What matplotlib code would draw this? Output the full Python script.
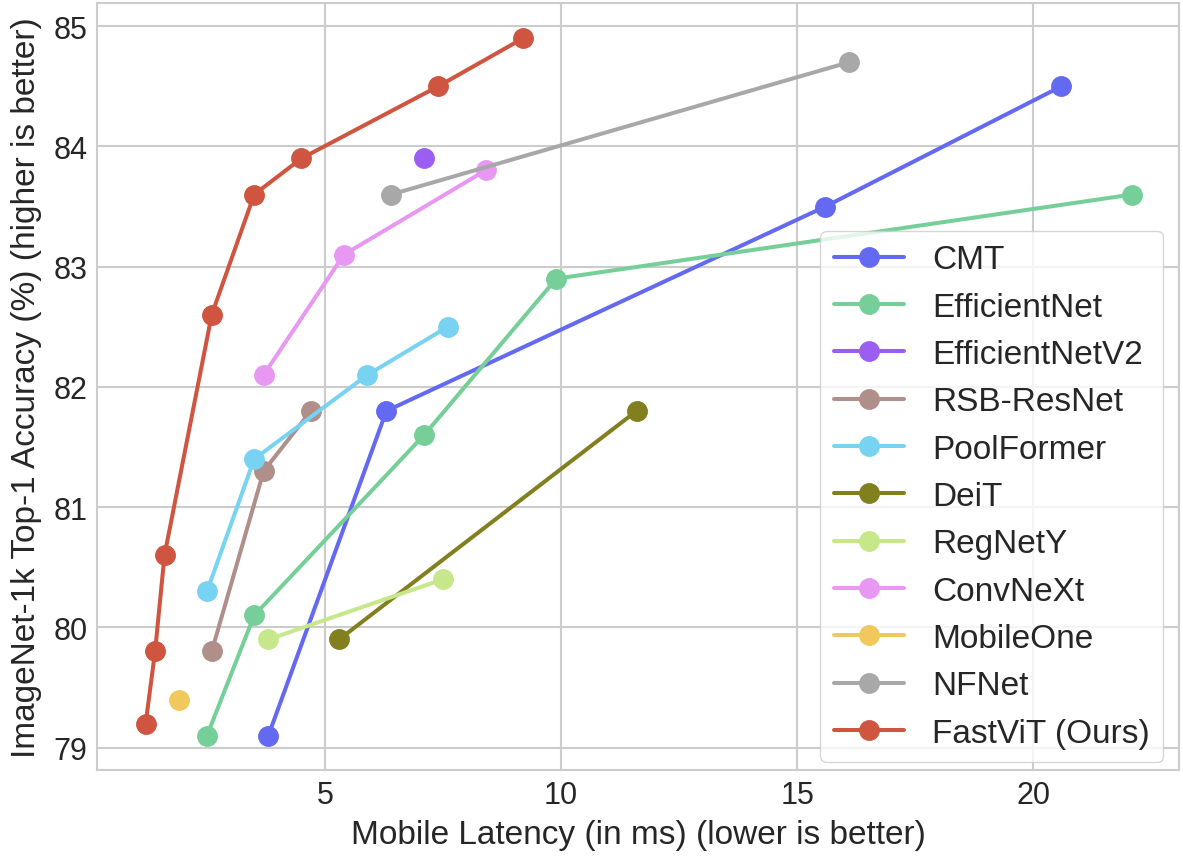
import matplotlib
matplotlib.use("Agg")
import matplotlib.pyplot as plt
import seaborn as sns

sns.set_style("whitegrid")
plt.rcParams['font.family'] = ['Liberation Sans', 'DejaVu Sans']

# Data (latency ms, top-1 accuracy %)
cmt_lat = [3.8, 6.3, 15.6, 20.6]
cmt_acc = [79.1, 81.8, 83.5, 84.5]
effnet_lat = [2.5, 3.5, 7.1, 9.9, 22.1]
effnet_acc = [79.1, 80.1, 81.6, 82.9, 83.6]
effnetv2_lat = [7.1]
effnetv2_acc = [83.9]
rsb_lat = [2.6, 3.7, 4.7]
rsb_acc = [79.8, 81.3, 81.8]
pool_lat = [2.5, 3.5, 5.9, 7.6]
pool_acc = [80.3, 81.4, 82.1, 82.5]
deit_lat = [5.3, 11.6]
deit_acc = [79.9, 81.8]
regnet_lat = [3.8, 7.5]
regnet_acc = [79.9, 80.4]
convnext_lat = [3.7, 5.4, 8.4]
convnext_acc = [82.1, 83.1, 83.8]
mobileone_lat = [1.9]
mobileone_acc = [79.4]
nfnet_lat = [6.4, 16.1]
nfnet_acc = [83.6, 84.7]
fastvit_lat = [1.2, 1.4, 1.6, 2.6, 3.5, 4.5, 7.4, 9.2]
fastvit_acc = [79.2, 79.8, 80.6, 82.6, 83.6, 83.9, 84.5, 84.9]

series = [
    ("CMT", cmt_lat, cmt_acc, "#6469f2"),
    ("EfficientNet", effnet_lat, effnet_acc, "#76cf98"),
    ("EfficientNetV2", effnetv2_lat, effnetv2_acc, "#9c5ef2"),
    ("RSB-ResNet", rsb_lat, rsb_acc, "#b08f8a"),
    ("PoolFormer", pool_lat, pool_acc, "#78d2f2"),
    ("DeiT", deit_lat, deit_acc, "#827f1e"),
    ("RegNetY", regnet_lat, regnet_acc, "#c7e88a"),
    ("ConvNeXt", convnext_lat, convnext_acc, "#e898f2"),
    ("MobileOne", mobileone_lat, mobileone_acc, "#f0c85c"),
    ("NFNet", nfnet_lat, nfnet_acc, "#a8a8a8"),
    ("FastViT (Ours)", fastvit_lat, fastvit_acc, "#d05540"),
]

fig, ax = plt.subplots(figsize=(11.83, 8.62), dpi=100)
for name, x, y, c in series:
    ax.plot(x, y, marker='o', color=c, lw=2.9, ms=14, label=name)

ax.set_xlim(0.17, 23.1)
ax.set_ylim(78.81, 85.19)
ax.set_xticks([5, 10, 15, 20])
ax.set_yticks([79, 80, 81, 82, 83, 84, 85])
ax.tick_params(labelsize=22, colors='#262626')
ax.set_xlabel('Mobile Latency (in ms) (lower is better)', fontsize=24, color='#262626', labelpad=6)
ax.set_ylabel('ImageNet-1k Top-1 Accuracy (%) (higher is better)', fontsize=24, color='#262626', labelpad=8)
for s in ax.spines.values():
    s.set_color('#cccccc')
    s.set_linewidth(1.5)
ax.grid(color='#cccccc', lw=1.5)
ax.legend(loc='lower right', fontsize=24, frameon=True, handlelength=2.1,
          borderpad=0.4, labelspacing=0.49, handletextpad=0.85,
          borderaxespad=0, bbox_to_anchor=(0.985, 0.011))

plt.subplots_adjust(left=0.082, right=0.997, top=0.995, bottom=0.105)
plt.savefig('out.png', dpi=100)
